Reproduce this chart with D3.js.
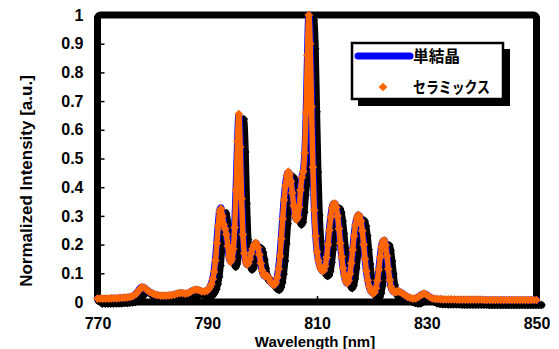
<!DOCTYPE html>
<html>
<head>
<meta charset="utf-8">
<script src="https://cdn.jsdelivr.net/npm/d3@7"></script>
<style>
  body { margin: 0; background: #fff; }
  svg { display: block; }
</style>
</head>
<body>
<svg id="chart" width="559" height="349"></svg>
<script>
// Wavelength grid [nm]: 0.5 nm outside the emission band, 0.25 nm inside it.
const wavelength = [
  770, 770.5, 771, 771.5, 772, 772.5, 773, 773.5, 774, 774.5, 775, 775.5, 776, 776.5, 777, 777.5, 778, 778.5, 779, 779.5,
  780, 780.5, 781, 781.5, 782, 782.5, 783, 783.5, 784, 784.5, 785, 785.5, 786, 786.5, 787, 787.5, 788, 788.5, 789, 789.5,
  790, 790.25, 790.5, 790.75, 791, 791.25, 791.5, 791.75, 792, 792.25, 792.5, 792.75, 793, 793.25, 793.5, 793.75,
  794, 794.25, 794.5, 794.75, 795, 795.25, 795.5, 795.75, 796, 796.25, 796.5, 796.75, 797, 797.25, 797.5, 797.75,
  798, 798.25, 798.5, 798.75, 799, 799.25, 799.5, 799.75, 800, 800.25, 800.5, 800.75, 801, 801.25, 801.5, 801.75,
  802, 802.25, 802.5, 802.75, 803, 803.25, 803.5, 803.75, 804, 804.25, 804.5, 804.75, 805, 805.25, 805.5, 805.75,
  806, 806.25, 806.5, 806.75, 807, 807.25, 807.5, 807.75, 808, 808.25, 808.5, 808.75, 809, 809.25, 809.5, 809.75,
  810, 810.25, 810.5, 810.75, 811, 811.25, 811.5, 811.75, 812, 812.25, 812.5, 812.75, 813, 813.25, 813.5, 813.75,
  814, 814.25, 814.5, 814.75, 815, 815.25, 815.5, 815.75, 816, 816.25, 816.5, 816.75, 817, 817.25, 817.5, 817.75,
  818, 818.25, 818.5, 818.75, 819, 819.25, 819.5, 819.75, 820, 820.25, 820.5, 820.75, 821, 821.25, 821.5, 821.75,
  822, 822.25, 822.5, 822.75, 823, 823.25, 823.5, 823.75, 824, 824.25, 824.5, 824.75,
  825, 825.5, 826, 826.5, 827, 827.5, 828, 828.5, 829, 829.5, 830, 830.5, 831, 831.5, 832, 832.5, 833, 833.5, 834, 834.5,
  835, 835.5, 836, 836.5, 837, 837.5, 838, 838.5, 839, 839.5, 840, 840.5, 841, 841.5, 842, 842.5, 843, 843.5, 844, 844.5,
  845, 845.5, 846, 846.5, 847, 847.5, 848, 848.5, 849, 849.5, 850
];

// セラミックス (markers)
const ceramics = [
  0.012, 0.012, 0.012, 0.012, 0.012, 0.013, 0.013, 0.013, 0.014, 0.014, 0.015, 0.016, 0.018, 0.021, 0.028, 0.040, 0.051, 0.050, 0.042, 0.035,
  0.030, 0.026, 0.024, 0.022, 0.022, 0.022, 0.023, 0.024, 0.026, 0.029, 0.031, 0.031, 0.029, 0.031, 0.036, 0.041, 0.043, 0.041, 0.037, 0.037,
  0.040, 0.045, 0.052, 0.062, 0.080, 0.105, 0.145, 0.205, 0.265, 0.315, 0.325, 0.300, 0.270, 0.255, 0.235, 0.195,
  0.155, 0.140, 0.150, 0.185, 0.260, 0.390, 0.560, 0.655, 0.540, 0.360, 0.235, 0.170, 0.140, 0.130, 0.135, 0.150,
  0.170, 0.185, 0.198, 0.205, 0.204, 0.190, 0.165, 0.135, 0.110, 0.095, 0.090, 0.092, 0.090, 0.082, 0.072, 0.065,
  0.061, 0.060, 0.068, 0.085, 0.115, 0.160, 0.220, 0.290, 0.355, 0.405, 0.440, 0.454, 0.445, 0.420, 0.380, 0.335,
  0.300, 0.287, 0.295, 0.330, 0.390, 0.435, 0.455, 0.520, 0.660, 0.860, 1.000, 0.900, 0.680, 0.470, 0.320, 0.230,
  0.175, 0.145, 0.125, 0.113, 0.108, 0.110, 0.125, 0.155, 0.200, 0.250, 0.295, 0.328, 0.342, 0.343, 0.330, 0.300,
  0.255, 0.205, 0.158, 0.118, 0.090, 0.072, 0.066, 0.075, 0.098, 0.135, 0.182, 0.230, 0.268, 0.292, 0.303, 0.300,
  0.282, 0.248, 0.200, 0.150, 0.108, 0.076, 0.055, 0.041, 0.033, 0.030, 0.034, 0.048, 0.075, 0.112, 0.155, 0.192,
  0.212, 0.215, 0.198, 0.160, 0.115, 0.077, 0.052, 0.040, 0.035, 0.034, 0.036, 0.037,
  0.036, 0.031, 0.024, 0.018, 0.014, 0.012, 0.013, 0.018, 0.025, 0.029, 0.025, 0.018, 0.013, 0.011, 0.010, 0.010, 0.009, 0.009, 0.009, 0.009,
  0.009, 0.008, 0.008, 0.008, 0.008, 0.008, 0.008, 0.008, 0.008, 0.008, 0.008, 0.007, 0.007, 0.007, 0.007, 0.007, 0.007, 0.007, 0.007, 0.007,
  0.007, 0.007, 0.007, 0.007, 0.007, 0.007, 0.007, 0.007, 0.007, 0.007, 0.007
];

// 単結晶 (line) - almost the same as the ceramic spectrum
const singleCrystal = [
  0.012, 0.012, 0.012, 0.012, 0.012, 0.013, 0.013, 0.013, 0.014, 0.014, 0.015, 0.016, 0.018, 0.021, 0.029, 0.041, 0.052, 0.050, 0.042, 0.035,
  0.030, 0.026, 0.024, 0.022, 0.022, 0.022, 0.023, 0.024, 0.026, 0.029, 0.031, 0.031, 0.029, 0.031, 0.036, 0.041, 0.043, 0.041, 0.037, 0.037,
  0.040, 0.045, 0.053, 0.064, 0.082, 0.108, 0.150, 0.210, 0.270, 0.318, 0.328, 0.302, 0.272, 0.256, 0.235, 0.195,
  0.155, 0.140, 0.150, 0.188, 0.265, 0.395, 0.550, 0.650, 0.555, 0.370, 0.240, 0.172, 0.141, 0.130, 0.135, 0.150,
  0.170, 0.185, 0.198, 0.205, 0.204, 0.190, 0.165, 0.135, 0.110, 0.095, 0.090, 0.092, 0.090, 0.082, 0.072, 0.065,
  0.061, 0.060, 0.068, 0.086, 0.118, 0.165, 0.225, 0.295, 0.358, 0.405, 0.440, 0.452, 0.445, 0.420, 0.380, 0.335,
  0.300, 0.287, 0.295, 0.332, 0.392, 0.436, 0.455, 0.510, 0.640, 0.850, 1.000, 0.920, 0.700, 0.485, 0.330, 0.235,
  0.178, 0.147, 0.126, 0.114, 0.108, 0.110, 0.125, 0.156, 0.202, 0.252, 0.296, 0.328, 0.342, 0.343, 0.330, 0.300,
  0.255, 0.205, 0.158, 0.118, 0.090, 0.072, 0.066, 0.075, 0.098, 0.135, 0.182, 0.230, 0.268, 0.292, 0.303, 0.300,
  0.282, 0.248, 0.200, 0.150, 0.108, 0.076, 0.055, 0.041, 0.033, 0.030, 0.034, 0.048, 0.075, 0.112, 0.155, 0.192,
  0.212, 0.215, 0.198, 0.160, 0.115, 0.077, 0.052, 0.040, 0.035, 0.034, 0.036, 0.037,
  0.036, 0.031, 0.024, 0.018, 0.014, 0.012, 0.013, 0.018, 0.025, 0.029, 0.025, 0.018, 0.013, 0.011, 0.010, 0.010, 0.009, 0.009, 0.009, 0.009,
  0.009, 0.008, 0.008, 0.008, 0.008, 0.008, 0.008, 0.008, 0.008, 0.008, 0.008, 0.007, 0.007, 0.007, 0.007, 0.007, 0.007, 0.007, 0.007, 0.007,
  0.007, 0.007, 0.007, 0.007, 0.007, 0.007, 0.007, 0.007, 0.007, 0.007, 0.007
];

const xTicks = [770, 790, 810, 830, 850];
const yTicks = [0, 0.1, 0.2, 0.3, 0.4, 0.5, 0.6, 0.7, 0.8, 0.9, 1];
const yTickLabels = ["0", "0.1", "0.2", "0.3", "0.4", "0.5", "0.6", "0.7", "0.8", "0.9", "1"];
const seriesNames = ["単結晶", "セラミックス"];

const LATIN = "'Liberation Sans', Arial, sans-serif";
const CJK = "'Noto Sans CJK JP', sans-serif";
const BLUE = "#0000ff", ORANGE = "#ff6600";

const svg = d3.select("#chart");
const x = d3.scaleLinear().domain([770, 850]).range([97.5, 536.5]);
const y = d3.scaleLinear().domain([0, 1]).range([302, 15]);

// plot area frame
svg.append("rect")
  .attr("x", x(770)).attr("y", y(1))
  .attr("width", x(850) - x(770)).attr("height", y(0) - y(1))
  .attr("rx", 3)
  .attr("fill", "#fff").attr("stroke", "#000").attr("stroke-width", 7);

// axes (ticks point inwards, domain is the frame)
const yAxis = svg.append("g")
  .attr("transform", `translate(${x(770)},0)`)
  .call(d3.axisLeft(y).tickValues(yTicks).tickFormat((d, i) => yTickLabels[i]).tickSize(-7).tickPadding(14));
const xAxis = svg.append("g")
  .attr("transform", `translate(0,${y(0)})`)
  .call(d3.axisBottom(x).tickValues(xTicks).tickFormat(d3.format("d")).tickSize(-6).tickPadding(16));
[yAxis, xAxis].forEach(g => {
  g.select(".domain").remove();
  g.selectAll("line").attr("stroke", "#000").attr("stroke-width", 1.5);
  g.selectAll("text")
    .attr("fill", "#000")
    .style("font-family", LATIN).style("font-size", "16px").style("font-weight", "bold");
});

// spectra
const points = wavelength.map((w, i) => ({ w, sc: singleCrystal[i], ce: ceramics[i] }));
const lineSc = d3.line().x(d => x(d.w)).y(d => y(d.sc)).curve(d3.curveMonotoneX);
const lineCe = d3.line().x(d => x(d.w)).y(d => y(d.ce)).curve(d3.curveMonotoneX);
const diamond = {
  draw(ctx, size) {
    const r = Math.sqrt(size / 2);
    ctx.moveTo(0, -r); ctx.lineTo(r, 0); ctx.lineTo(0, r); ctx.lineTo(-r, 0); ctx.closePath();
  }
};
const diamondPath = d3.symbol().type(diamond).size(38)();

function drawSeries(g, shadow) {
  g.append("path").datum(points)
    .attr("d", lineSc).attr("fill", "none")
    .attr("stroke", shadow ? "#000" : BLUE).attr("stroke-width", 7)
    .attr("stroke-linejoin", "round").attr("stroke-linecap", "round");
  g.append("path").datum(points)
    .attr("d", lineCe).attr("fill", "none")
    .attr("stroke", shadow ? "#000" : ORANGE).attr("stroke-width", 5.5)
    .attr("stroke-linejoin", "round");
  g.append("g").selectAll("path")
    .data(points)
    .join("path")
    .attr("transform", d => `translate(${x(d.w)},${y(d.ce)})`)
    .attr("d", diamondPath)
    .attr("fill", shadow ? "#000" : ORANGE);
}
drawSeries(svg.append("g").attr("transform", "translate(5,5)"), true);
drawSeries(svg.append("g"), false);

// axis titles
svg.append("text")
  .attr("transform", `translate(32,181) rotate(-90)`)
  .attr("text-anchor", "middle")
  .style("font-family", LATIN).style("font-size", "17px").style("font-weight", "bold")
  .text("Normalized Intensity [a.u.]");
svg.append("text")
  .attr("x", 315).attr("y", 346.5)
  .attr("text-anchor", "middle")
  .style("font-family", LATIN).style("font-size", "15px").style("font-weight", "bold")
  .text("Wavelength [nm]");

// legend
const legend = svg.append("g");
legend.append("rect").attr("x", 358).attr("y", 49).attr("width", 152).attr("height", 57).attr("fill", "#000");
legend.append("rect").attr("x", 352).attr("y", 43).attr("width", 151).attr("height", 56)
  .attr("fill", "#fff").attr("stroke", "#000").attr("stroke-width", 2.5);
legend.append("line").attr("x1", 358).attr("x2", 410).attr("y1", 56).attr("y2", 56)
  .attr("stroke", BLUE).attr("stroke-width", 7).attr("stroke-linecap", "round");
legend.append("path").attr("transform", "translate(383,87)").attr("d", diamondPath).attr("fill", ORANGE);
legend.selectAll("text")
  .data(seriesNames)
  .join("text")
  .attr("x", 413)
  .attr("y", (d, i) => 56 + i * 31)
  .attr("dy", "0.36em")
  .attr("textLength", (d, i) => i === 0 ? 47 : 77)
  .attr("lengthAdjust", "spacingAndGlyphs")
  .style("font-family", CJK).style("font-size", "16px").style("font-weight", "bold")
  .text(d => d);
</script>
</body>
</html>
